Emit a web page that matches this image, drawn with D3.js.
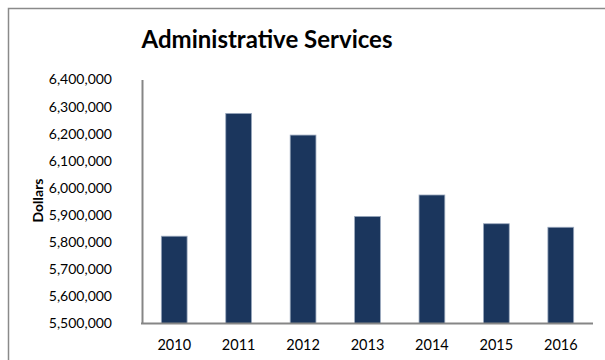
<!DOCTYPE html>
<html>
<head>
<meta charset="utf-8">
<script src="https://cdn.jsdelivr.net/npm/d3@7"></script>
<style>
  html, body { margin: 0; padding: 0; background: #fff; }
  svg { display: block; }
  text { font-family: Lato, "Open Sans", sans-serif; fill: #000; }
</style>
</head>
<body>
<svg id="chart" width="605" height="360"></svg>
<script>
const years = ["2010", "2011", "2012", "2013", "2014", "2015", "2016"];
const dollars = [5822000, 6275000, 6195000, 5895000, 5974000, 5868000, 5855000];
const yTicks = [5500000, 5600000, 5700000, 5800000, 5900000, 6000000, 6100000, 6200000, 6300000, 6400000];
const titleText = "Administrative Services";
const yAxisTitle = "Dollars";

const svg = d3.select("#chart");
const W = 605, H = 360;
const plot = { left: 142, right: 593, top: 79.5, bottom: 323.5 };

// outer chart border (top + left visible)
svg.append("path")
  .attr("d", `M8.5,${H + 2} V8.5 H${W + 2}`)
  .attr("fill", "none")
  .attr("stroke", "#8a8a8a")
  .attr("stroke-width", 1.5);

const x = d3.scaleBand()
  .domain(years)
  .range([plot.left, plot.right])
  .paddingInner(0.6)
  .paddingOuter(0.3);

const y = d3.scaleLinear()
  .domain([yTicks[0], yTicks[yTicks.length - 1]])
  .range([plot.bottom, plot.top]);

// bars
svg.append("g").selectAll("rect")
  .data(years.map((yr, i) => ({ yr, v: dollars[i] })))
  .join("rect")
  .attr("x", d => x(d.yr))
  .attr("y", d => y(d.v))
  .attr("width", x.bandwidth())
  .attr("height", d => y(yTicks[0]) - y(d.v))
  .attr("fill", "#1b365d")
  .attr("stroke", "#9aa8bd")
  .attr("stroke-width", 0.8);

// y axis
const yAxis = svg.append("g")
  .attr("transform", `translate(${plot.left},0)`)
  .call(d3.axisLeft(y)
    .tickValues(yTicks)
    .tickFormat(d3.format(","))
    .tickSize(0)
    .tickPadding(30));
yAxis.select(".domain").attr("stroke", "#868686").attr("stroke-width", 2);
yAxis.selectAll("text")
  .style("font-family", "Lato, 'Open Sans', sans-serif")
  .style("font-size", "14px")
  .attr("fill", "#000");

// x axis
const xAxis = svg.append("g")
  .attr("transform", `translate(0,${plot.bottom})`)
  .call(d3.axisBottom(x).tickSize(0).tickPadding(16));
xAxis.select(".domain")
  .attr("stroke", "#868686").attr("stroke-width", 2)
  .attr("d", `M${plot.left - 1},0H${plot.right}`);
xAxis.selectAll("text")
  .style("font-family", "Lato, 'Open Sans', sans-serif")
  .style("font-size", "14.5px")
  .attr("fill", "#000");

// y axis title
svg.append("text")
  .attr("transform", "translate(43,200.5) rotate(-90)")
  .attr("text-anchor", "middle")
  .style("font-size", "14px")
  .style("font-weight", "bold")
  .text(yAxisTitle);

// chart title, fitted to the reference width
const title = svg.append("text")
  .attr("x", 267)
  .attr("y", 48)
  .attr("text-anchor", "middle")
  .style("font-size", "28px")
  .style("font-weight", "bold")
  .text(titleText);
const tw = title.node().getComputedTextLength();
const targetW = 251;
title.style("font-size", (28 * targetW / tw).toFixed(2) + "px");
</script>
</body>
</html>
